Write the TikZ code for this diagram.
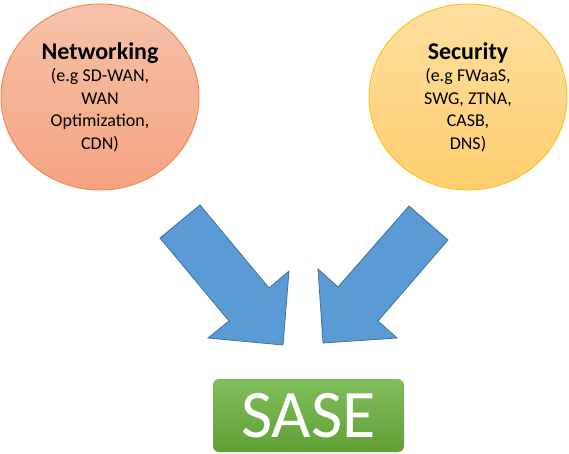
\documentclass[tikz,border=0pt]{standalone}
\usepackage{fontspec}
\setmainfont{Carlito}
\usetikzlibrary{shapes.geometric}

\definecolor{nettop}{RGB}{247,194,170}
\definecolor{netbot}{RGB}{244,163,128}
\definecolor{netedge}{RGB}{240,140,90}
\definecolor{sectop}{RGB}{254,224,160}
\definecolor{secbot}{RGB}{255,205,110}
\definecolor{secedge}{RGB}{255,195,40}
\definecolor{arrowblue}{RGB}{91,155,213}
\definecolor{arrowedge}{RGB}{65,113,156}
\definecolor{sasetop}{RGB}{128,190,92}
\definecolor{sasebot}{RGB}{96,160,54}

\tikzset{
  topic/.style={ellipse, minimum width=198pt, minimum height=186pt, inner sep=0pt,
    align=center, line width=1pt, font=\fontsize{18}{22.5}\selectfont},
  bigarrow/.style={fill=arrowblue, draw=arrowedge, line width=0.8pt},
  sasebox/.style={rounded corners=6pt, minimum width=191pt, minimum height=73pt,
    top color=sasetop, bottom color=sasebot, text=white, inner sep=0pt,
    font=\fontsize{68}{68}\selectfont},
}

\begin{document}
\begin{tikzpicture}[x=1pt,y=-1pt]
\useasboundingbox (0,0) rectangle (569,454);

% Themen
\node[topic, draw=netedge, top color=nettop, bottom color=netbot] (net) at (100,97)
  {{\fontsize{24}{24}\selectfont\bfseries Networking}\\(e.g SD-WAN,\\WAN\\Optimization,\\CDN)};
\node[topic, draw=secedge, top color=sectop, bottom color=secbot] (sec) at (468,97)
  {{\fontsize{24}{24}\selectfont\bfseries Security}\\(e.g FWaaS,\\SWG, ZTNA,\\CASB,\\DNS)};

% Pfeile
\draw[bigarrow] (160,238) -- (200,205) -- (269,288) -- (289,271) -- (283,345)
  -- (208,338) -- (229,321) -- cycle;
\draw[bigarrow] (409,206) -- (448,240) -- (378,321) -- (397,338) -- (323,343)
  -- (318,269) -- (338,287) -- cycle;

% Ergebnis
\node[sasebox] (sase) at (308.5,415.5) {SASE};
\end{tikzpicture}
\end{document}
